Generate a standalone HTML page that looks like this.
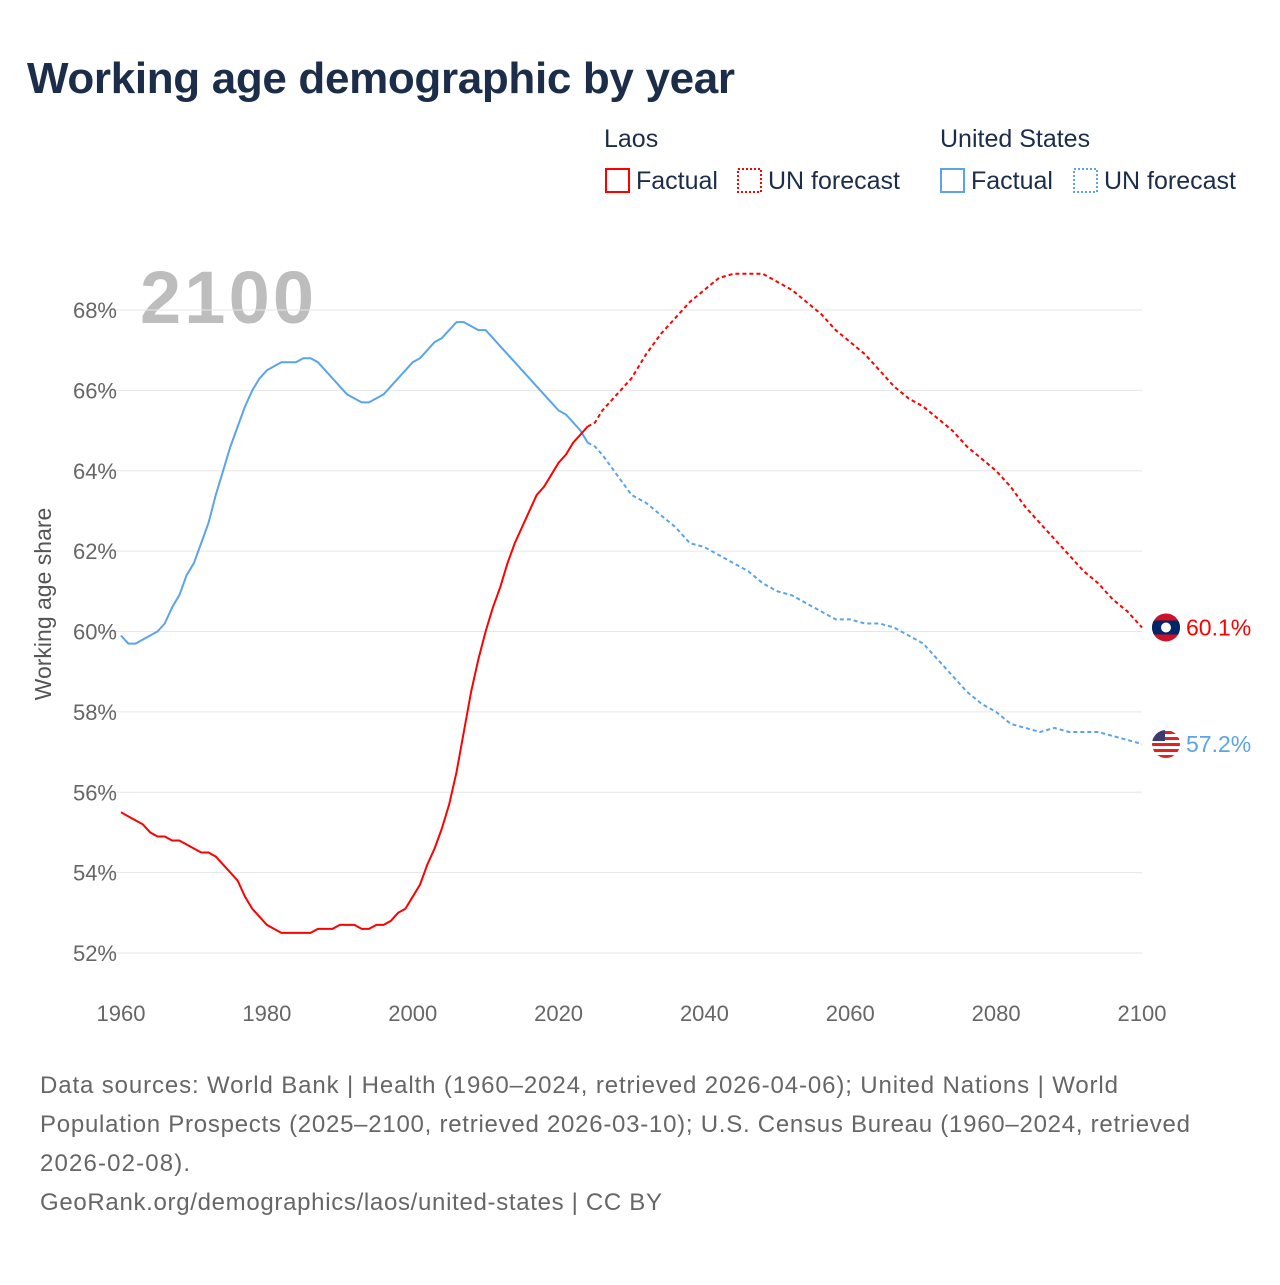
<!DOCTYPE html>
<html><head><meta charset="utf-8"><style>
body{margin:0;background:#fff;font-family:"Liberation Sans",sans-serif;}
svg text{font-family:"Liberation Sans",sans-serif;}
</style></head><body>
<svg id="c" width="1280" height="1280">
<defs><clipPath id="cl"><circle cx="1166" cy="627" r="14"/></clipPath><clipPath id="cu"><circle cx="1166" cy="744" r="14"/></clipPath></defs>
<text x="27" y="93" font-size="44" font-weight="bold" fill="#1c2d4a" textLength="708">Working age demographic by year</text>
<g font-size="25">
<text x="604" y="147" fill="#1c2d4a">Laos</text>
<text x="940" y="147" fill="#1c2d4a">United States</text>
<g><rect x="606" y="169" width="23" height="23" fill="none" stroke="#f00" stroke-width="2"/><text x="636" y="189" fill="#1c2d4a">Factual</text></g>
<g><rect x="738" y="169" width="23" height="23" fill="none" stroke="#f00" stroke-width="2" stroke-dasharray="2,2"/><text x="768" y="189" fill="#1c2d4a">UN forecast</text></g>
<g><rect x="941" y="169" width="23" height="23" fill="none" stroke="#5ba4ea" stroke-width="2"/><text x="971" y="189" fill="#1c2d4a">Factual</text></g>
<g><rect x="1074" y="169" width="23" height="23" fill="none" stroke="#5ba4ea" stroke-width="2" stroke-dasharray="2,2"/><text x="1104" y="189" fill="#1c2d4a">UN forecast</text></g>
</g>
<text x="140" y="323" font-size="74" font-weight="bold" fill="#bdbdbd" textLength="174">2100</text>
<text transform="translate(51,604) rotate(-90)" text-anchor="middle" font-size="23" fill="#555">Working age share</text>
<g id="grid"></g><g id="series"></g>
<g font-size="24" fill="#666">
<text x="40" y="1093" textLength="1078">Data sources: World Bank | Health (1960–2024, retrieved 2026-04-06); United Nations | World</text>
<text x="40" y="1132" textLength="1150">Population Prospects (2025–2100, retrieved 2026-03-10); U.S. Census Bureau (1960–2024, retrieved</text>
<text x="40" y="1171" textLength="150">2026-02-08).</text>
<text x="40" y="1210" textLength="622">GeoRank.org/demographics/laos/united-states | CC BY</text>
</g>
</svg>
<script>
const yTicks=[52,54,56,58,60,62,64,66,68];
const xTicks=[1960,1980,2000,2020,2040,2060,2080,2100];
const laosYears=[1960,1961,1962,1963,1964,1965,1966,1967,1968,1969,1970,1971,1972,1973,1974,1975,1976,1977,1978,1979,1980,1981,1982,1983,1984,1985,1986,1987,1988,1989,1990,1991,1992,1993,1994,1995,1996,1997,1998,1999,2000,2001,2002,2003,2004,2005,2006,2007,2008,2009,2010,2011,2012,2013,2014,2015,2016,2017,2018,2019,2020,2021,2022,2023,2024];
const laosFactual=[55.5,55.4,55.3,55.2,55.0,54.9,54.9,54.8,54.8,54.7,54.6,54.5,54.5,54.4,54.2,54.0,53.8,53.4,53.1,52.9,52.7,52.6,52.5,52.5,52.5,52.5,52.5,52.6,52.6,52.6,52.7,52.7,52.7,52.6,52.6,52.7,52.7,52.8,53.0,53.1,53.4,53.7,54.2,54.6,55.1,55.7,56.5,57.5,58.5,59.3,60.0,60.6,61.1,61.7,62.2,62.6,63.0,63.4,63.6,63.9,64.2,64.4,64.7,64.9,65.1];
const usFactual=[59.9,59.7,59.7,59.8,59.9,60.0,60.2,60.6,60.9,61.4,61.7,62.2,62.7,63.4,64.0,64.6,65.1,65.6,66.0,66.3,66.5,66.6,66.7,66.7,66.7,66.8,66.8,66.7,66.5,66.3,66.1,65.9,65.8,65.7,65.7,65.8,65.9,66.1,66.3,66.5,66.7,66.8,67.0,67.2,67.3,67.5,67.7,67.7,67.6,67.5,67.5,67.3,67.1,66.9,66.7,66.5,66.3,66.1,65.9,65.7,65.5,65.4,65.2,65.0,64.7];
const fcYears=[2024,2025,2026,2028,2030,2032,2034,2036,2038,2040,2042,2044,2046,2048,2050,2052,2054,2056,2058,2060,2062,2064,2066,2068,2070,2072,2074,2076,2078,2080,2082,2084,2086,2088,2090,2092,2094,2096,2098,2100];
const laosForecast=[65.1,65.2,65.5,65.9,66.3,66.9,67.4,67.8,68.2,68.5,68.8,68.9,68.9,68.9,68.7,68.5,68.2,67.9,67.5,67.2,66.9,66.5,66.1,65.8,65.6,65.3,65.0,64.6,64.3,64.0,63.6,63.1,62.7,62.3,61.9,61.5,61.2,60.8,60.5,60.1];
const usForecast=[64.7,64.6,64.4,63.9,63.4,63.2,62.9,62.6,62.2,62.1,61.9,61.7,61.5,61.2,61.0,60.9,60.7,60.5,60.3,60.3,60.2,60.2,60.1,59.9,59.7,59.3,58.9,58.5,58.2,58.0,57.7,57.6,57.5,57.6,57.5,57.5,57.5,57.4,57.3,57.2];
const X=y=>121+(y-1960)*(1021/140);
const Y=v=>953-(v-52)*(643/16);
const NS="http://www.w3.org/2000/svg";
function mk(t,a,p){const e=document.createElementNS(NS,t);for(const k in a)e.setAttribute(k,a[k]);p.appendChild(e);return e;}
const grid=document.getElementById('grid'),ser=document.getElementById('series');
yTicks.forEach(v=>{
 const l=mk('line',{x1:100,x2:1142,y1:Y(v),y2:Y(v),stroke:'#e6e6e6','stroke-width':1},grid);
 
 
 const t=mk('text',{x:117,y:Y(v)+8,'text-anchor':'end','font-size':22,fill:'#666'},grid);t.textContent=v+'%';
 
 
});
xTicks.forEach(v=>{
 const t=mk('text',{x:X(v),y:1021,'text-anchor':'middle','font-size':22,fill:'#666'},grid);t.textContent=v;
 
 
});
function line(xs,vs,col,dash,name){
 const d=xs.map((x,i)=>(i?'L':'M')+X(x).toFixed(1)+','+Y(vs[i]).toFixed(1)).join('');
 const p=mk('path',{d:d,fill:'none',stroke:col,'stroke-width':2,'stroke-dasharray':dash||'none'},ser);
 
 
}
line(laosYears,usFactual,'#5ba4ea',null,'us-factual-line');
line(fcYears,usForecast,'#5ba4ea','4,3','us-forecast-line');
line(laosYears,laosFactual,'#f00',null,'laos-factual-line');
line(fcYears,laosForecast,'#f00','4,3','laos-forecast-line');
const ly=Y(laosForecast[laosForecast.length-1]),uy=Y(usForecast[usForecast.length-1]);
document.querySelector('#cl circle').setAttribute('cy',ly);
document.querySelector('#cu circle').setAttribute('cy',uy);
const fl=mk('g',{'clip-path':'url(#cl)'},ser);


mk('rect',{x:1150,y:ly-16,width:32,height:32,fill:'#ce1126'},fl);
mk('rect',{x:1150,y:ly-7,width:32,height:14,fill:'#002868'},fl);
mk('circle',{cx:1166,cy:ly,r:5,fill:'#fff'},fl);
const lt=mk('text',{x:1186,y:ly+8,'font-size':23,fill:'#f00'},ser);lt.textContent='60.1%';


const fu=mk('g',{'clip-path':'url(#cu)'},ser);


mk('rect',{x:1150,y:uy-16,width:32,height:32,fill:'#fff'},fu);
for(let i=0;i<5;i++)mk('rect',{x:1150,y:uy-13+i*6,width:32,height:3,fill:'#d22'},fu);
mk('rect',{x:1150,y:uy-16,width:15,height:13,fill:'#3c3b6e'},fu);
const ut=mk('text',{x:1186,y:uy+8,'font-size':23,fill:'#5ba4ea'},ser);ut.textContent='57.2%';


</script>
</body></html>
